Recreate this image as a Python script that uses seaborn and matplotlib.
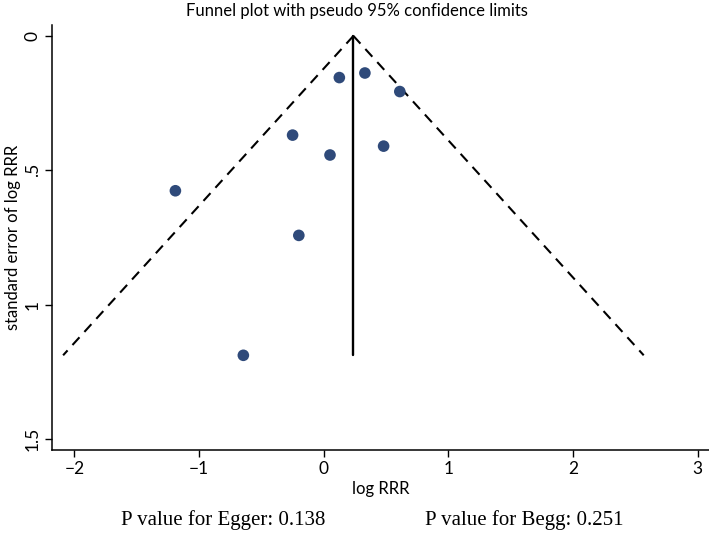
import numpy as np
import pandas as pd
import seaborn as sns
import matplotlib.pyplot as plt

# study estimates
log_rrr = [-1.19, 0.125, 0.33, 0.61, -0.25, 0.05, 0.48, -0.20, -0.645]
se_log_rrr = [0.576, 0.155, 0.138, 0.207, 0.369, 0.443, 0.41, 0.742, 1.188]
x_ticks = [-2, -1, 0, 1, 2, 3]
y_ticks = [0, 0.5, 1, 1.5]
y_ticklabels = ["0", ".5", "1", "1.5"]
egger_p = 0.138
begg_p = 0.251

sns.set_style("ticks")
plt.rcParams['font.family'] = ['Lato', 'DejaVu Sans']
plt.rcParams['text.color'] = 'black'
plt.rcParams['axes.labelcolor'] = 'black'
plt.rcParams['xtick.color'] = 'black'
plt.rcParams['ytick.color'] = 'black'

df = pd.DataFrame({"log RRR": log_rrr, "se": se_log_rrr})

# fixed effect pooled estimate and pseudo 95% limits
w = 1 / df["se"] ** 2
pooled = (w * df["log RRR"]).sum() / w.sum()
se_max = df["se"].max()
se_grid = np.array([0, se_max])
limits = pd.DataFrame({
    "se": np.concatenate([se_grid, se_grid]),
    "x": np.concatenate([pooled - 1.96 * se_grid, pooled + 1.96 * se_grid]),
    "side": ["lo", "lo", "hi", "hi"],
})

fig = plt.figure(figsize=(7.09, 5.35), dpi=100)
ax = fig.add_axes([0.0733, 0.159, 0.9267, 0.794])

for side, grp in limits.groupby("side"):
    ax.plot(grp["x"], grp["se"], color="black", lw=1.5, ls=(0, (5, 3.5)))
ax.plot([pooled, pooled], [0, se_max], color="black", lw=1.7)

sns.scatterplot(data=df, x="log RRR", y="se", ax=ax, color="#2f4a7a",
                s=70, edgecolor="none", zorder=3)

ax.set_xlim(-2.18, 3.09)
ax.set_ylim(1.54, -0.04)
ax.set_xticks(x_ticks)
ax.set_xticklabels([str(t).replace("-", "\u2212") for t in x_ticks], fontsize=12.5)
ax.set_yticks(y_ticks)
ax.set_yticklabels(y_ticklabels, rotation=90, va="center", fontsize=12.5)
ax.tick_params(length=5, width=1, color="black", pad=3)
ax.set_xlabel("log RRR", fontsize=12, labelpad=3)
ax.set_ylabel("standard error of log RRR", fontsize=12, labelpad=3)
sns.despine(ax=ax)
for sp in ["left", "bottom"]:
    ax.spines[sp].set_linewidth(1.1)
    ax.spines[sp].set_color("black")

fig.text(0.503, 0.98, "Funnel plot with pseudo 95% confidence limits",
         ha="center", va="center", fontsize=12)
fig.text(0.17, 0.028, "P value for Egger: %.3f" % egger_p,
         family="Liberation Serif", fontsize=15, ha="left", va="center")
fig.text(0.6, 0.028, "P value for Begg: %.3f" % begg_p,
         family="Liberation Serif", fontsize=15, ha="left", va="center")

fig.savefig("out.png", dpi=100)
